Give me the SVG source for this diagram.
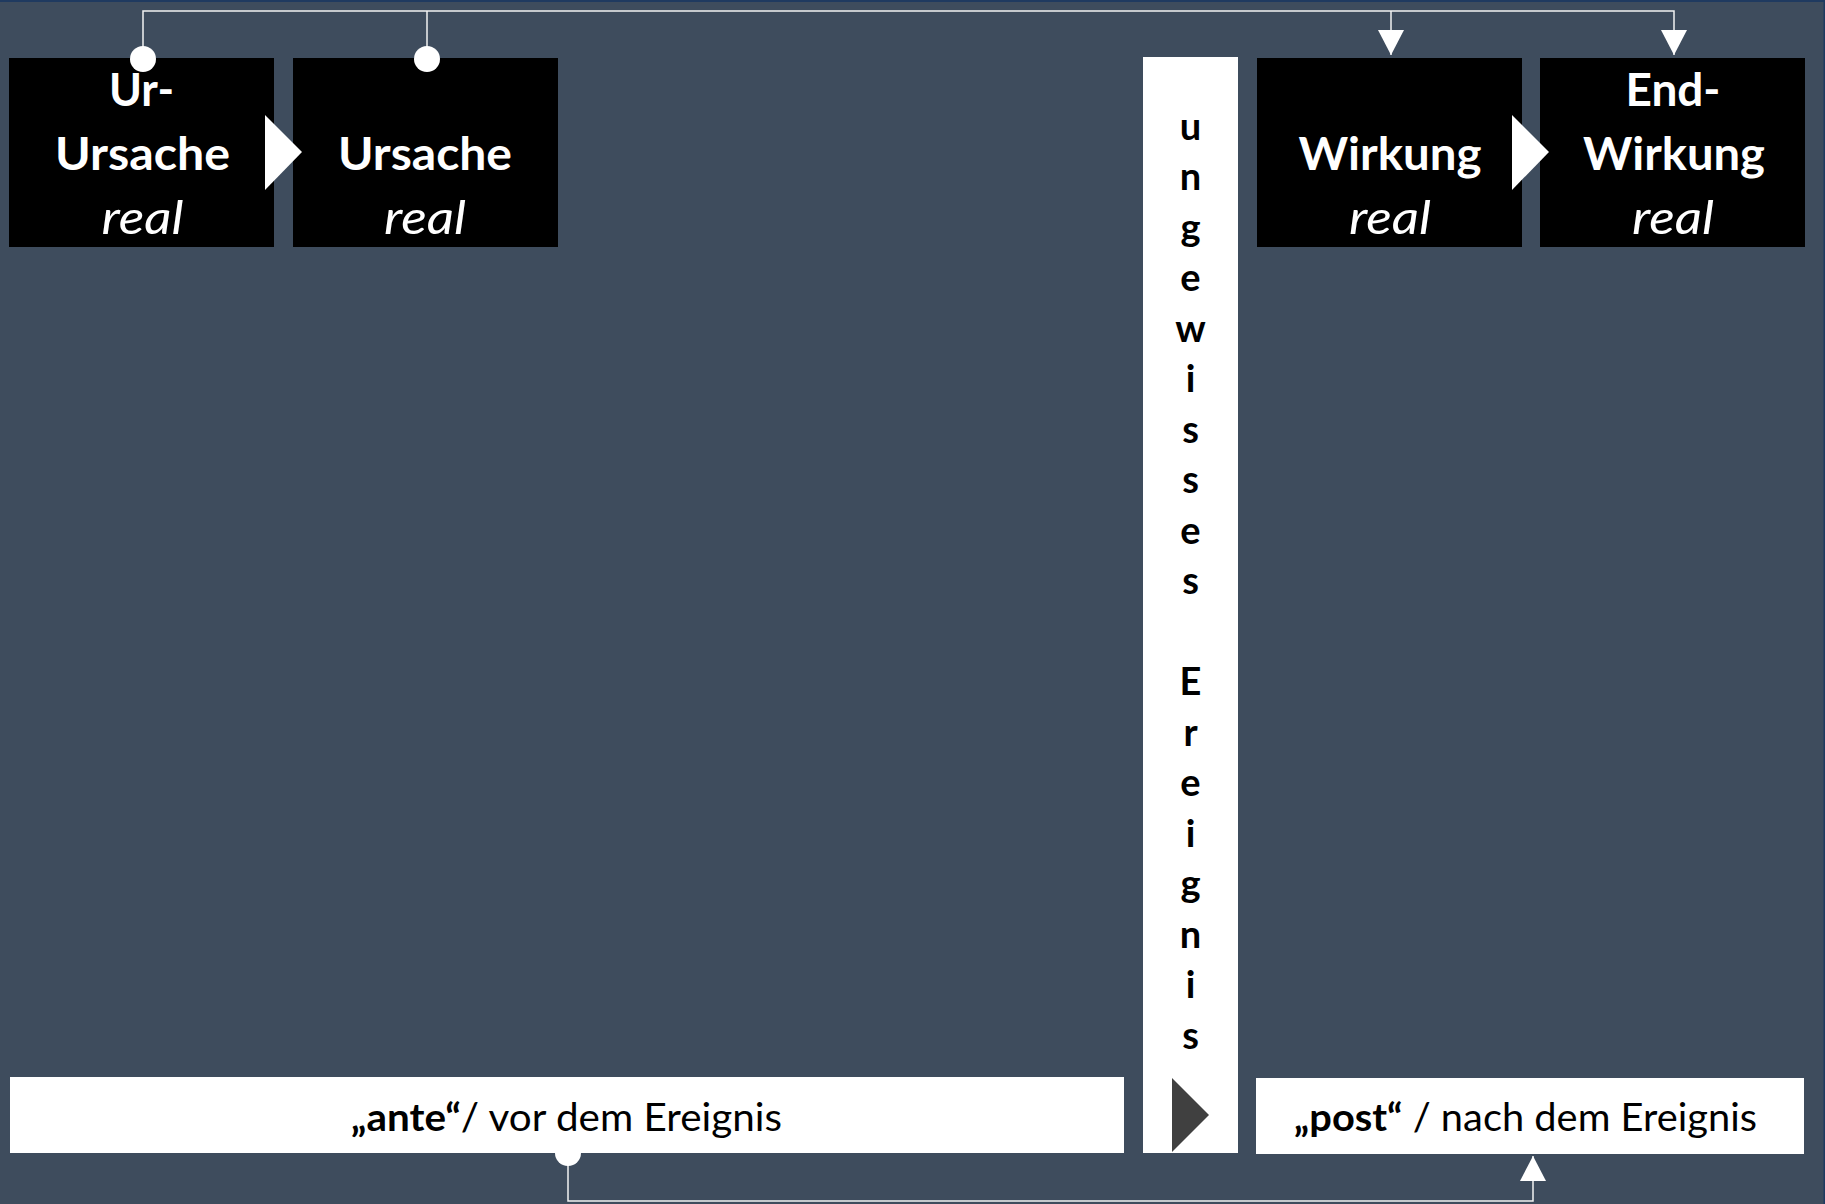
<svg xmlns="http://www.w3.org/2000/svg" width="1825" height="1204" viewBox="0 0 1825 1204">
<style>
.bg{fill:#3e4c5d}
.edge{fill:#1f3a60}
.box{fill:#000}
.lbl{font-family:Lato,"Open Sans","Liberation Sans",sans-serif;fill:#fff;font-size:46px;font-weight:700;text-anchor:middle}
.it{font-style:italic;font-weight:400}
.wtri{fill:#fff}
.wbox{fill:#fff}
.dtri{fill:#404040}
.vtxt{font-family:Lato,"Open Sans","Liberation Sans",sans-serif;fill:#000;font-size:38px;font-weight:700;text-anchor:middle}
.btxt{font-family:Lato,"Open Sans","Liberation Sans",sans-serif;fill:#000;font-size:39px;font-weight:400;text-anchor:middle}
.b{font-weight:700}
.conn{fill:none;stroke:#f2f2f2;stroke-width:1.5}
</style>
<defs>
<marker id="arrow" markerUnits="userSpaceOnUse" markerWidth="26" markerHeight="26" refX="25" refY="13" orient="auto" viewBox="0 0 26 26">
<path d="M0,0 L25,13 L0,26 z" fill="#fff"/>
</marker>
<marker id="dot" markerUnits="userSpaceOnUse" markerWidth="28" markerHeight="28" refX="14" refY="14" orient="auto" viewBox="0 0 28 28">
<circle cx="14" cy="14" r="13" fill="#fff"/>
</marker>
</defs>
<rect class="bg" x="0" y="0" width="1825" height="1204"/>
<rect class="edge" x="0" y="0" width="1825" height="2"/>
<rect class="edge" x="1823.5" y="0" width="1.5" height="1204"/>

<g id="ur-ursache">
<rect class="box" x="9" y="58" width="265" height="189"/>
<text class="lbl" x="141.5" y="106" textLength="65" lengthAdjust="spacingAndGlyphs">Ur-</text>
<text class="lbl" x="142.5" y="170" textLength="175" lengthAdjust="spacingAndGlyphs">Ursache</text>
<text class="lbl it" x="142.5" y="234" textLength="82" lengthAdjust="spacingAndGlyphs">real</text>
</g>
<g id="ursache">
<rect class="box" x="293" y="58" width="265" height="189"/>
<text class="lbl" x="425" y="170" textLength="174" lengthAdjust="spacingAndGlyphs">Ursache</text>
<text class="lbl it" x="425" y="234" textLength="82" lengthAdjust="spacingAndGlyphs">real</text>
</g>
<g id="wirkung">
<rect class="box" x="1257" y="58" width="265" height="189"/>
<text class="lbl" x="1390" y="170" textLength="183" lengthAdjust="spacingAndGlyphs">Wirkung</text>
<text class="lbl it" x="1390" y="234" textLength="82" lengthAdjust="spacingAndGlyphs">real</text>
</g>
<g id="end-wirkung">
<rect class="box" x="1540" y="58" width="265" height="189"/>
<text class="lbl" x="1673" y="106" textLength="95" lengthAdjust="spacingAndGlyphs">End-</text>
<text class="lbl" x="1674" y="170" textLength="182" lengthAdjust="spacingAndGlyphs">Wirkung</text>
<text class="lbl it" x="1673" y="234" textLength="82" lengthAdjust="spacingAndGlyphs">real</text>
</g>
<g id="chevrons">
<path class="wtri" d="M265,115 L302,152 L265,190 z"/>
<path class="wtri" d="M1512,115 L1549,152 L1512,190 z"/>
</g>

<g id="ereignis">
<rect class="wbox" x="1143" y="57" width="95" height="1096"/>
<text class="vtxt" x="1190.5" y="139.5"><tspan x="1190.5">u</tspan><tspan x="1190.5" dy="50.5">n</tspan><tspan x="1190.5" dy="50.5">g</tspan><tspan x="1190.5" dy="50.5">e</tspan><tspan x="1190.5" dy="50.5">w</tspan><tspan x="1190.5" dy="50.5">i</tspan><tspan x="1190.5" dy="50.5">s</tspan><tspan x="1190.5" dy="50.5">s</tspan><tspan x="1190.5" dy="50.5">e</tspan><tspan x="1190.5" dy="50.5">s</tspan><tspan x="1190.5" dy="101">E</tspan><tspan x="1190.5" dy="50.5">r</tspan><tspan x="1190.5" dy="50.5">e</tspan><tspan x="1190.5" dy="50.5">i</tspan><tspan x="1190.5" dy="50.5">g</tspan><tspan x="1190.5" dy="50.5">n</tspan><tspan x="1190.5" dy="50.5">i</tspan><tspan x="1190.5" dy="50.5">s</tspan></text>
<path class="dtri" d="M1172,1078 L1209,1115 L1172,1152 z"/>
</g>

<g id="ante">
<rect class="wbox" x="10" y="1077" width="1114" height="76"/>
<text class="btxt" x="566.5" y="1131" textLength="431" lengthAdjust="spacingAndGlyphs"><tspan class="b">„ante“</tspan>/ vor dem Ereignis</text>
</g>
<g id="post">
<rect class="wbox" x="1256" y="1078" width="548" height="76"/>
<text class="btxt" x="1525.5" y="1131" textLength="463" lengthAdjust="spacingAndGlyphs"><tspan class="b">„post“</tspan> / nach dem Ereignis</text>
</g>

<g id="connectors">
<path class="conn" d="M143,59 V11 H1674 V55" marker-start="url(#dot)" marker-end="url(#arrow)"/>
<path class="conn" d="M427,59 V11" marker-start="url(#dot)"/>
<path class="conn" d="M1391,11 V55" marker-end="url(#arrow)"/>
<path class="conn" d="M568,1153 V1201 H1533 V1156" marker-start="url(#dot)" marker-end="url(#arrow)"/>
</g>
</svg>
